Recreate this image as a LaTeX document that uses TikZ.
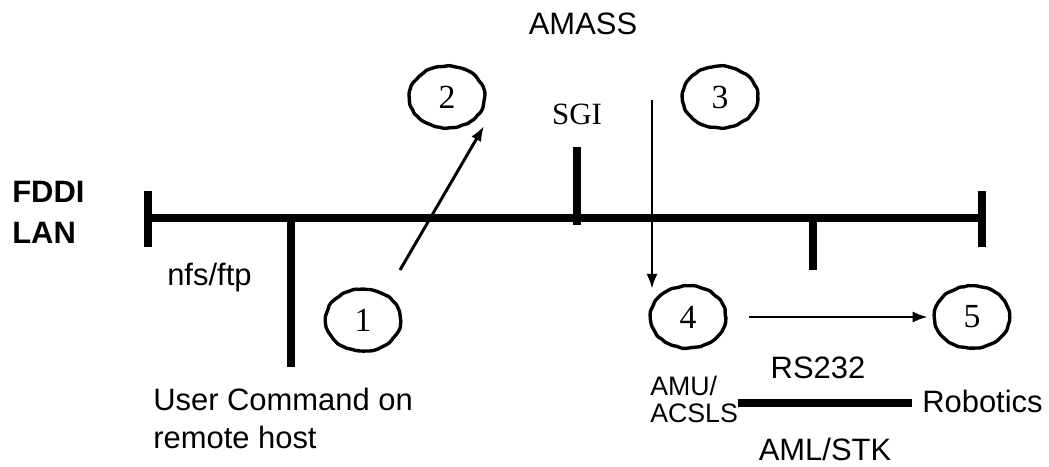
\documentclass[tikz,border=0pt]{standalone}
\usepackage{fontspec}
\setmainfont{Liberation Sans}
\newfontfamily\timesfont{Liberation Serif}
\usetikzlibrary{arrows.meta,shapes.geometric,decorations.pathmorphing}
\tikzset{
  bus/.style={line width=5.7pt},
  stub/.style={line width=5.7pt},
  arr/.style={-{Latex[length=3.8mm,width=2.8mm]},line width=2.1pt},
  stepnum/.style={ellipse,draw,line width=2.4pt,inner sep=0pt,minimum width=1.88cm,minimum height=1.55cm,
    font=\timesfont\fontsize{24}{28}\selectfont,
    decorate,decoration={random steps,segment length=3pt,amplitude=0.5pt},rounded corners=1pt},
  lbl/.style={font=\fontsize{22}{27}\selectfont,inner sep=0pt},
  smalllbl/.style={font=\fontsize{19}{19.2}\selectfont,inner sep=0pt}
}
\begin{document}
\begin{tikzpicture}[x=0.025cm,y=-0.025cm]
  \useasboundingbox (0,0) rectangle (1049,466);
  % FDDI bus
  \coordinate (busL) at (148,218);
  \coordinate (busR) at (982,218);
  \draw[bus] (busL) -- (busR);
  \draw[stub] (148,191) -- (148,247);
  \draw[stub] (982,191) -- (982,247);
  \coordinate (hostTap) at (291,218);
  \coordinate (hostEnd) at (291,367);
  \draw[stub] (hostTap) -- (hostEnd);
  \coordinate (sgiTap) at (577,225);
  \coordinate (sgiEnd) at (577,147);
  \draw[stub] (sgiTap) -- (sgiEnd);
  \coordinate (amuTap) at (813,218);
  \coordinate (amuEnd) at (813,270);
  \draw[stub] (amuTap) -- (amuEnd);
  % steps
  \node[stepnum] (s1) at (363,320) {1};
  \node[stepnum] (s2) at (447,97) {2};
  \node[stepnum] (s3) at (720,97) {3};
  \node[stepnum] (s4) at (688,317) {4};
  \node[stepnum] (s5) at (972,317) {5};
  \coordinate (a1) at (400,270);
  \coordinate (a2) at (484,126);
  \draw[arr] (a1) -- (a2);
  \coordinate (a3) at (652,100);
  \coordinate (a4) at (652,289);
  \draw[arr] (a3) -- (a4);
  \draw[arr,shorten <=0.55cm,shorten >=0.12cm] (s4) -- (s5);
  % robotics link
  \coordinate (rbL) at (738,403);
  \coordinate (rbR) at (912,403);
  \draw[line width=5pt] (rbL) -- (rbR);
  % labels
  \node[lbl] (amass) at (583,24) {AMASS};
  \node[font=\timesfont\fontsize{22}{26}\selectfont,inner sep=0pt] (sgi) at (577,114) {SGI};
  \node[lbl,font=\bfseries\fontsize{22}{28.5}\selectfont,align=left,anchor=base west] (fddi) at (12,243) {FDDI\\LAN};
  \node[lbl,anchor=base west] (nfs) at (167,285) {nfs/ftp};
  \node[lbl,align=left,anchor=base west,font=\fontsize{22}{27}\selectfont] (user) at (153,448) {User Command on\\remote host};
  \node[lbl,anchor=base] (rs) at (818,378) {RS232};
  \node[smalllbl,align=left,anchor=base west] (amu) at (650,422) {AMU/\\ACSLS};
  \node[lbl,anchor=base west] (robot) at (922,412) {Robotics};
  \node[lbl,anchor=base] (aml) at (825,460) {AML/STK};
\end{tikzpicture}
\end{document}
